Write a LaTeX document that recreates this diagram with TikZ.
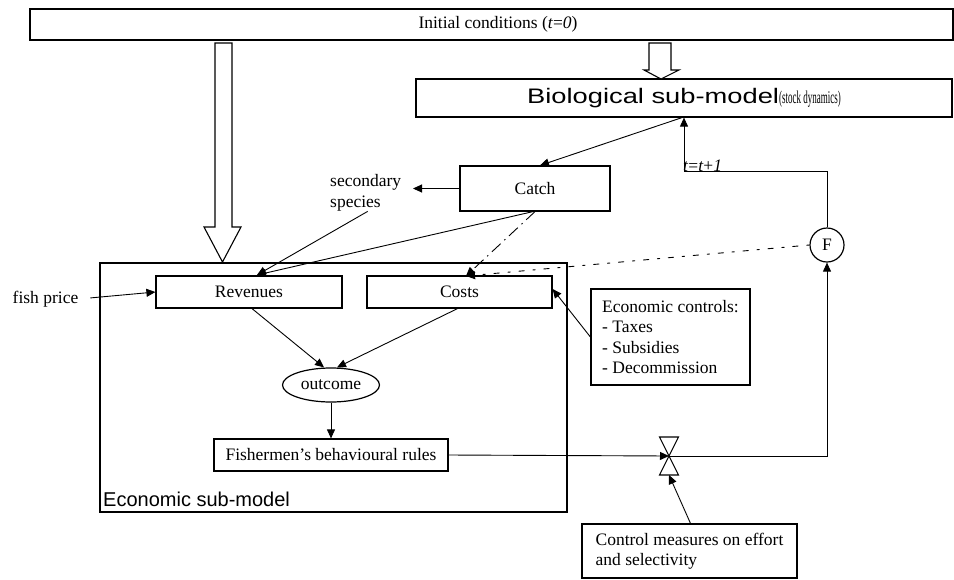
\documentclass[tikz,border=0pt]{standalone}
\usepackage{fontspec}
\setmainfont{Liberation Serif}
\setsansfont{Liberation Sans}
\usetikzlibrary{arrows.meta,shapes.geometric}

\begin{document}
\begin{tikzpicture}[x=1pt, y=-1pt,
  >={Triangle[length=9pt,width=8pt]},
  every node/.style={font=\fontsize{17.5}{20.5}\selectfont},
  box/.style={draw, line width=1.2pt, inner sep=0pt},
  link/.style={->, line width=0.9pt},
  hollow/.style={draw, line width=1.1pt, fill=white},
]
\useasboundingbox (0,0) rectangle (954,579);
\node[box, minimum width=923, minimum height=31] (init) at (491.5,24.5) {};
\node at (498,24.5) (inittext) {Initial conditions (\textit{t}=\textit{0})};
\node[box, minimum width=536, minimum height=38] (bio) at (684,98)
  {\scalebox{1.3}[1]{\fontsize{21}{24}\sffamily Biological sub-model}%
   \scalebox{0.5}[1]{\fontsize{18}{20}\selectfont(stock dynamics)}};
\node[box, minimum width=150, minimum height=45] (catch) at (535,188.5) {Catch};
\node[align=left, anchor=west, inner sep=0pt] (ss) at (330,193) {secondary\\species};
\node[box, minimum width=467, minimum height=249] (econ) at (333.5,387.5) {};
\node[anchor=base west, inner sep=0pt, font=\fontsize{20}{24}\sffamily]
  (econlabel) at (103,506) {Economic sub-model};
\node[box, minimum width=186, minimum height=32] (rev) at (249,292) {Revenues};
\node[box, minimum width=185, minimum height=32] (costs) at (459.5,292) {Costs};
\node[inner sep=0pt] (price) at (45.5,299) {fish price};
\node[box, ellipse, minimum width=97, minimum height=34] (outcome) at (331,385) {outcome};
\node[box, minimum width=234, minimum height=32] (fish) at (331,455)
  {Fishermen's behavioural rules};
\node[box, minimum width=159, minimum height=96, align=left] (ctrl) at (670.5,337)
  {Economic controls:\\- Taxes\\- Subsidies\\- Decommission};
\node[box, minimum width=215, minimum height=54, align=left] (meas) at (689.5,551)
  {Control measures on effort\\and selectivity};
\node[box, circle, minimum size=34] (F) at (827,245) {F};
\node[anchor=base west, inner sep=0pt] (tlabel) at (683,171)
  {\textit{t}=\textit{t}+\textit{1}};
\coordinate (valve) at (669,456);
\coordinate (valvebot) at (669,475);
\coordinate (revin) at (257,275);
\coordinate (costin) at (466,276);

\draw[hollow] (215,43) -- (232,43) -- (232,227) -- (241,227) -- (222.5,262)
  -- (204,227) -- (215,227) -- cycle;
\draw[hollow] (649,43) -- (671,43) -- (671,70) -- (679,70) -- (661,79)
  -- (644,70) -- (649,70) -- cycle;
\draw[line width=1.1pt] (valve) -- ++(-9.5,-19) -- ++(19,0) -- cycle;
\draw[line width=1.1pt] (valve) -- ++(-9.5,19) -- ++(19,0) -- cycle;

\draw[link] (F.north) -- ++(0,-56) -| (bio.south);
\draw[link] ([xshift=-2pt]bio.south) -- ([xshift=5pt]catch.north);
\draw[link] (catch.west) -- (catch.west -| 413,0);
\draw[link] ([xshift=2pt]ss.south) -- (revin);
\draw[link] ([xshift=-2pt]catch.south) -- (revin);
\draw[link, dash pattern=on 12pt off 5pt on 1.5pt off 5pt] (catch.south) -- (costin);
\draw[link, dash pattern=on 3pt off 8pt on 6pt off 8pt] (F.west) -- (costin);
\draw[link, shorten <=12pt] (price.east) -- (rev.west);
\draw[link] ([xshift=3pt]rev.south) -- ([xshift=-7pt]outcome.north);
\draw[link] ([xshift=-2pt]costs.south) -- ([xshift=6pt]outcome.north);
\draw[link] (outcome.south) -- (fish.north);
\draw[link] (ctrl.west) -- ([yshift=3pt]costs.east);
\draw[link] (fish.east) -- (valve);
\draw[link] (valve) -| (F.south);
\draw[link] ([xshift=1pt]meas.north) -- (valvebot);
\end{tikzpicture}
\end{document}
